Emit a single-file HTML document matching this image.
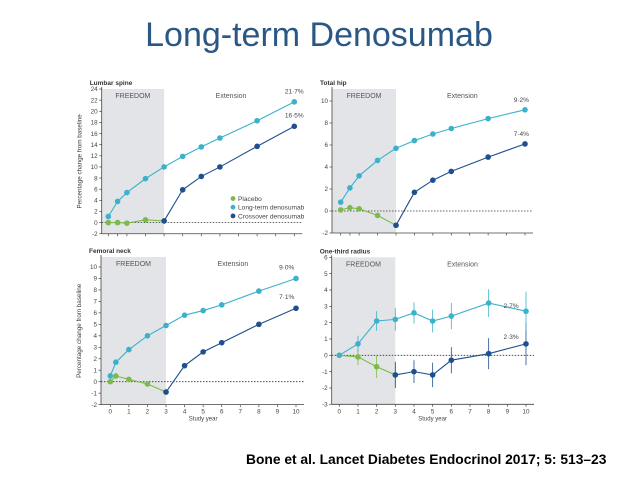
<!DOCTYPE html>
<html><head><meta charset="utf-8">
<style>
html,body{margin:0;padding:0;background:#fff;width:638px;height:479px;overflow:hidden;font-family:"Liberation Sans",sans-serif}
#t{position:absolute;left:0;width:638px;top:16px;text-align:center;font-size:34px;color:#2a5783}
#c{position:absolute;left:246px;top:452px;font-size:13.8px;font-weight:bold;color:#000;white-space:nowrap}
svg{position:absolute;left:0;top:0}
</style></head><body>
<div id="t">Long-term Denosumab</div>
<div id="c">Bone et al. Lancet Diabetes Endocrinol 2017; 5: 513–23</div>
<svg id="s" width="638" height="479"></svg>
<script>
// Lumbar spine
const lsLongX=[0,0.5,1,2,3,4,5,6,8,10];
const lsLongY=[1.1,3.8,5.4,7.9,10.0,11.9,13.6,15.2,18.3,21.7];
const lsCrossX=[3,4,5,6,8,10];
const lsCrossY=[0.3,5.9,8.3,10.0,13.7,17.3];
const lsPlacX=[0,0.5,1,2,3];
const lsPlacY=[0,0,-0.1,0.5,0.3];
const lsTicks=[-2,0,2,4,6,8,10,12,14,16,18,20,22,24];
// Total hip
const thLongX=[0,0.5,1,2,3,4,5,6,8,10];
const thLongY=[0.8,2.1,3.2,4.6,5.7,6.4,7.0,7.5,8.4,9.2];
const thCrossX=[3,4,5,6,8,10];
const thCrossY=[-1.3,1.7,2.8,3.6,4.9,6.1];
const thPlacX=[0,0.5,1,2,3];
const thPlacY=[0.1,0.3,0.2,-0.4,-1.3];
const thTicks=[-2,0,2,4,6,8,10];
// Femoral neck
const fnLongX=[0,0.3,1,2,3,4,5,6,8,10];
const fnLongY=[0.5,1.7,2.8,4.0,4.9,5.8,6.2,6.7,7.9,9.0];
const fnCrossX=[3,4,5,6,8,10];
const fnCrossY=[-0.9,1.4,2.6,3.4,5.0,6.4];
const fnPlacX=[0,0.3,1,2,3];
const fnPlacY=[0,0.5,0.2,-0.2,-0.9];
const fnTicks=[-2,-1,0,1,2,3,4,5,6,7,8,9,10];
// One-third radius
const rdLongX=[0,1,2,3,4,5,6,8,10];
const rdLongY=[0,0.7,2.1,2.2,2.6,2.1,2.4,3.2,2.7];
const rdLongE=[0,0.5,0.6,0.7,0.65,0.7,0.8,0.85,1.2];
const rdCrossX=[3,4,5,6,8,10];
const rdCrossY=[-1.2,-1.0,-1.2,-0.3,0.1,0.7];
const rdCrossE=[0.8,0.7,0.75,0.8,0.95,1.3];
const rdPlacX=[0,1,2,3];
const rdPlacY=[0,-0.1,-0.7,-1.2];
const rdPlacE=[0,0.5,0.7,0.8];
const rdTicks=[-3,-2,-1,0,1,2,3,4,5,6];
const xTickLabels=[0,1,2,3,4,5,6,7,8,9,10];
const topTickX=[0,0.5,1,2,3,4,5,6,7,8,9,10];

const LB='#3bb1cb',DB='#1f4f8e',GR='#7cbb4a';
const S=document.getElementById('s');
const NS='http://www.w3.org/2000/svg';
function el(tag,a,name,txt){const e=document.createElementNS(NS,tag);for(const k in a)e.setAttribute(k,a[k]);


if(txt!==undefined)e.textContent=txt;S.appendChild(e);return e;}

function panel(p){
  const X=v=>p.x0+v*p.xs, Y=v=>p.z-v*p.ys;
  const yMin=p.ticks[0];
  el('rect',{x:p.left,y:p.top,width:X(3)-p.left,height:Y(yMin)-p.top,fill:'#e2e4e7'},p.id+'-freedom-shade');
  el('text',{x:(p.left+X(3))/2,y:p.top+9,'font-size':7,'text-anchor':'middle',fill:'#555'},p.id+'-freedom-label','FREEDOM');
  el('text',{x:X(6.6),y:p.top+9,'font-size':7,'text-anchor':'middle',fill:'#555'},p.id+'-extension-label','Extension');
  el('text',{x:p.left-12,y:p.top-4,'font-size':6.5,'font-weight':'bold',fill:'#333'},p.id+'-panel-title',p.title);
  el('line',{x1:p.left,y1:p.top-2,x2:p.left,y2:Y(yMin),stroke:'#444','stroke-width':0.8},p.id+'-y-axis');
  el('line',{x1:p.left,y1:Y(yMin),x2:X(10)+8,y2:Y(yMin),stroke:'#444','stroke-width':0.8},p.id+'-x-axis');
  el('line',{x1:p.left,y1:Y(0),x2:X(10)+8,y2:Y(0),stroke:'#333','stroke-width':0.8,'stroke-dasharray':'1.5,1.5'},p.id+'-zero-line');
  p.ticks.forEach(t=>{
    el('line',{x1:p.left-2.5,y1:Y(t),x2:p.left,y2:Y(t),stroke:'#444','stroke-width':0.7},p.id+'-y-tick');
    el('text',{x:p.left-4,y:Y(t)+2.2,'font-size':6.3,'text-anchor':'end',fill:'#444'},p.id+'-y-tick-label',t);
  });
  const xt=p.labels?xTickLabels:topTickX;
  xt.forEach(t=>{
    el('line',{x1:X(t),y1:Y(yMin),x2:X(t),y2:Y(yMin)+2.5,stroke:'#444','stroke-width':0.7},p.id+'-x-tick');
    if(p.labels)el('text',{x:X(t),y:Y(yMin)+9,'font-size':6.3,'text-anchor':'middle',fill:'#444'},p.id+'-x-tick-label',t);
  });
  if(p.labels)el('text',{x:X(5),y:Y(yMin)+16,'font-size':6,'text-anchor':'middle',fill:'#444'},p.id+'-x-axis-title','Study year');
  if(p.ytitle)el('text',{x:0,y:0,'font-size':6.3,'text-anchor':'middle',fill:'#444',transform:`translate(${p.left-20},${(p.top+Y(yMin))/2}) rotate(-90)`},p.id+'-y-axis-title','Percentage change from baseline');
  p.series.forEach(s=>{
    const pts=s.x.map((v,i)=>X(v)+','+Y(s.y[i])).join(' ');
    el('polyline',{points:pts,fill:'none',stroke:s.c,'stroke-width':1.1},p.id+'-'+s.n+'-line');
    s.x.forEach((v,i)=>{
      const e=s.e?s.e[i]:0.2;
      if(e>0)el('line',{x1:X(v),y1:Y(s.y[i]+e),x2:X(v),y2:Y(s.y[i]-e),stroke:s.c,'stroke-width':0.8},p.id+'-'+s.n+'-error-bar');
      el('circle',{cx:X(v),cy:Y(s.y[i]),r:2.8,fill:s.c},p.id+'-'+s.n+'-point');
    });
  });
  (p.ann||[]).forEach(a=>el('text',{x:X(a[0]),y:Y(a[1]),'font-size':6.5,'text-anchor':'middle',fill:'#444'},p.id+'-end-label',a[2]));
}
panel({id:'lumbar',title:'Lumbar spine',left:101.7,top:89,x0:108.3,xs:18.6,z:222.6,ys:5.565,ticks:lsTicks,labels:false,ytitle:true,
 series:[{n:'placebo',x:lsPlacX,y:lsPlacY,c:GR},{n:'crossover',x:lsCrossX,y:lsCrossY,c:DB},{n:'long-term',x:lsLongX,y:lsLongY,c:LB}],
 ann:[[10,23.2,'21·7%'],[10,18.9,'16·5%']]});
panel({id:'hip',title:'Total hip',left:332,top:89,x0:340.7,xs:18.43,z:211,ys:11,ticks:thTicks,labels:false,ytitle:false,
 series:[{n:'placebo',x:thPlacX,y:thPlacY,c:GR},{n:'crossover',x:thCrossX,y:thCrossY,c:DB},{n:'long-term',x:thLongX,y:thLongY,c:LB}],
 ann:[[9.8,9.9,'9·2%'],[9.8,6.8,'7·4%']]});
panel({id:'femoral',title:'Femoral neck',left:101,top:257,x0:110.3,xs:18.57,z:381.7,ys:11.47,ticks:fnTicks,labels:true,ytitle:true,
 series:[{n:'placebo',x:fnPlacX,y:fnPlacY,c:GR},{n:'crossover',x:fnCrossX,y:fnCrossY,c:DB},{n:'long-term',x:fnLongX,y:fnLongY,c:LB}],
 ann:[[9.5,9.8,'9·0%'],[9.5,7.2,'7·1%']]});
panel({id:'radius',title:'One-third radius',left:331.7,top:257.3,x0:339.3,xs:18.67,z:355.3,ys:16.33,ticks:rdTicks,labels:true,ytitle:false,
 series:[{n:'placebo',x:rdPlacX,y:rdPlacY,c:GR,e:rdPlacE},{n:'crossover',x:rdCrossX,y:rdCrossY,c:DB,e:rdCrossE},{n:'long-term',x:rdLongX,y:rdLongY,c:LB,e:rdLongE}],
 ann:[[9.2,2.9,'2·7%'],[9.2,1.0,'2·3%']]});
// legend
[['Placebo',GR],['Long-term denosumab',LB],['Crossover denosumab',DB]].forEach((l,i)=>{
  el('circle',{cx:233,cy:198.5+i*8.7,r:2.4,fill:l[1]},'legend-marker');
  el('text',{x:238,y:201+i*8.7,'font-size':6.6,fill:'#444'},'legend-entry',l[0]);
});
</script>
</body></html>
